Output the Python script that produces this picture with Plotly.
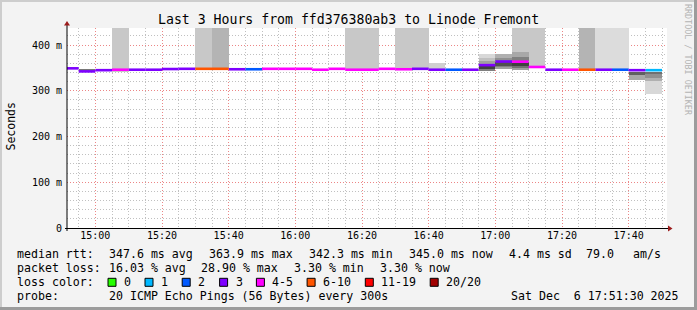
import pandas as pd
import plotly.graph_objects as go

# ---------------- data ----------------
title_text = "Last 3 Hours from ffd376380ab3 to Linode Fremont"
t_start = "2025-12-06 14:51:30"
t_end = "2025-12-06 17:51:30"
slot_start = list(pd.date_range("2025-12-06 14:50", periods=36, freq="5min"))
median_ms = [349, 342.3, 345, 346, 346, 346, 347.5, 348, 348, 348, 347, 347,
             348, 348, 348, 346, 348, 346, 346, 348, 347, 348, 346, 346,
             346, 356, 363.9, 363.5, 352, 346, 346, 346, 346, 346, 345, 345.0]
loss_pings = [3, 3, 3, 4, 3, 3, 3, 3, 6, 6, 3, 2,
              4, 4, 4, 4, 4, 4, 4, 4, 4, 3, 3, 2,
              3, 3, 3, 4, 4, 3, 4, 6, 3, 2, 3, 1]
# smoke bands: slot index, low ms, high ms, grey shade
smoke_slot = [0, 1, 3, 8, 9, 17, 18, 20, 21, 22,
              25, 25, 25, 25, 25,
              26, 26, 26, 26, 26,
              27, 27, 27, 27, 27, 27,
              28, 31, 32, 33,
              34, 34,
              35, 35, 35, 35]
smoke_lo = [349, 343, 341, 348, 348, 344, 344, 346, 347, 346,
            345, 348, 358, 366, 372,
            349, 352, 355, 366, 372,
            345, 345, 350, 355, 366, 374,
            354, 346, 347, 347,
            334, 323,
            336, 329, 322, 293]
smoke_hi = [352, 348, 480, 480, 480, 480, 480, 480, 480, 360,
            348, 354, 366, 372, 380,
            352, 355, 362, 372, 380,
            480, 350, 355, 362, 374, 385,
            480, 480, 480, 480,
            342, 334,
            342, 336, 329, 322]
smoke_shade = [200, 120, 200, 200, 180, 200, 200, 200, 200, 208,
               128, 64, 160, 192, 216,
               160, 128, 80, 144, 176,
               200, 160, 112, 64, 128, 168,
               200, 180, 220, 220,
               96, 168,
               112, 144, 176, 216]

loss_labels = ["0", "1", "2", "3", "4-5", "6-10", "11-19", "20/20"]
loss_upper = [0, 1, 2, 3, 5, 10, 19, 20]
loss_colors = ["#26ff00", "#00b8ff", "#0059ff", "#7e00ff", "#ff00ff", "#ff5500", "#ff0000", "#a10000"]

y_tick_vals = [0, 100, 200, 300, 400]
y_tick_labels = ["0", "100 m", "200 m", "300 m", "400 m"]
x_tick_vals = list(pd.date_range("2025-12-06 15:00", "2025-12-06 17:40", freq="20min"))
x_tick_labels = ["15:00", "15:20", "15:40", "16:00", "16:20", "16:40", "17:00", "17:20", "17:40"]

legend_rtt = ["347.6 ms avg", "363.9 ms max", "342.3 ms min", "345.0 ms now", "4.4 ms sd", "79.0", "am/s"]
legend_loss = ["16.03 % avg", "28.90 % max", "3.30 % min", "3.30 % now"]
probe_text = "20 ICMP Echo Pings (56 Bytes) every 300s"
date_text = "Sat Dec  6 17:51:30 2025"

# ---------------- layout helpers ----------------
W, H = 697, 310
L, R, T, B = 67, 667, 28, 228
MONO = "DejaVu Sans Mono"
LEG = 11.6


def px(x):
    return (x - L) / (R - L)


def py(y):
    return (B - y) / (B - T)


slot = pd.Timedelta("5min")
fig = go.Figure()

# smoke
fig.add_trace(go.Bar(
    x=[slot_start[i] + slot / 2 for i in smoke_slot],
    y=[h - l for l, h in zip(smoke_lo, smoke_hi)],
    base=smoke_lo,
    width=slot.total_seconds() * 1000,
    marker=dict(color=[f"rgb({s},{s},{s})" for s in smoke_shade], line=dict(width=0)),
    hoverinfo="skip",
))


def loss_class(n):
    for k, u in enumerate(loss_upper):
        if n <= u:
            return k
    return len(loss_upper) - 1


for k, col in enumerate(loss_colors):
    xs, ys = [], []
    for t0, v, n in zip(slot_start, median_ms, loss_pings):
        if loss_class(n) == k:
            xs += [t0, t0 + slot, None]
            ys += [v, v, None]
    if xs:
        fig.add_trace(go.Scatter(x=xs, y=ys, mode="lines",
                                 line=dict(color=col, width=2.6), hoverinfo="skip"))

grid_dash = "1px,2px"
fig.update_xaxes(
    type="date", range=[t_start, t_end],
    tickvals=x_tick_vals, ticktext=x_tick_labels,
    tickfont=dict(family=MONO, size=10, color="#000"),
    showgrid=True, gridcolor="rgba(255,110,110,0.7)", griddash=grid_dash, gridwidth=1,
    minor=dict(dtick=300000, tick0="2025-12-06 14:50", showgrid=True,
               gridcolor="rgba(150,150,150,0.6)", griddash=grid_dash, gridwidth=1),
    zeroline=False, showline=False, ticks="", fixedrange=True,
)
fig.update_yaxes(
    range=[0, 437.2], tickvals=y_tick_vals, ticktext=y_tick_labels,
    tickfont=dict(family=MONO, size=10, color="#000"),
    showgrid=True, gridcolor="rgba(255,110,110,0.7)", griddash=grid_dash, gridwidth=1,
    minor=dict(dtick=20, showgrid=True, gridcolor="rgba(150,150,150,0.6)",
               griddash=grid_dash, gridwidth=1),
    zeroline=False, showline=False, ticks="", ticklabelstandoff=4,
)

shapes = []
# frame
frame_light = "#cdcdcd"
frame_dark = "#9c9c9c"
shapes.append(dict(type="rect", xref="paper", yref="paper", x0=px(0), x1=px(W), y0=py(0), y1=py(2),
                   fillcolor=frame_light, line=dict(width=0)))
shapes.append(dict(type="rect", xref="paper", yref="paper", x0=px(0), x1=px(2), y0=py(0), y1=py(H),
                   fillcolor=frame_light, line=dict(width=0)))
shapes.append(dict(type="rect", xref="paper", yref="paper", x0=px(0), x1=px(W), y0=py(H - 3), y1=py(H),
                   fillcolor=frame_dark, line=dict(width=0)))
shapes.append(dict(type="rect", xref="paper", yref="paper", x0=px(W - 3), x1=px(W), y0=py(0), y1=py(H),
                   fillcolor=frame_dark, line=dict(width=0)))
# axes
shapes.append(dict(type="line", xref="paper", yref="paper", x0=px(65), x1=px(670), y0=py(228.5), y1=py(228.5),
                   line=dict(color="#000", width=1)))
shapes.append(dict(type="line", xref="paper", yref="paper", x0=px(67), x1=px(67), y0=py(231), y1=py(24),
                   line=dict(color="#000", width=1)))
arrow_col = "#9c1c1c"
shapes.append(dict(type="path", xref="paper", yref="paper",
                   path=f"M {px(64)} {py(25.5)} L {px(70)} {py(25.5)} L {px(67)} {py(21)} Z",
                   fillcolor=arrow_col, line=dict(width=0)))
shapes.append(dict(type="path", xref="paper", yref="paper",
                   path=f"M {px(668)} {py(225.5)} L {px(668)} {py(231.5)} L {px(672.5)} {py(228.5)} Z",
                   fillcolor=arrow_col, line=dict(width=0)))

ann = []


def text(x, y, s, size=LEG, anchor="left", color="#000", angle=0):
    ann.append(dict(x=px(x), y=py(y), xref="paper", yref="paper", text=s.replace(" ", "\u00a0"),
                    showarrow=False, xanchor=anchor, yanchor="middle", borderpad=0, textangle=angle,
                    font=dict(family=MONO, size=size, color=color)))


text(348, 19.3, title_text, size=13.2, anchor="center")
text(10.5, 127, "Seconds", size=11.5, anchor="center", angle=-90)
text(688, 60, "RRDTOOL / TOBI OETIKER", size=8.4, anchor="center", color="#b4b4b4", angle=90)

row_y = [254.3, 268.3, 282.3, 296.3]
text(16.4, row_y[0], "median rtt:")
for s, x in zip(legend_rtt, [107.6, 207.6, 307.6, 407.6, 507.8, 585, 632]):
    text(x, row_y[0], s)
text(16.4, row_y[1], "packet loss:")
for s, x in zip(legend_loss, [107.6, 200.4, 293.4, 379.4]):
    text(x, row_y[1], s)
text(16.4, row_y[2], "loss color:")
box_x = [108, 145, 182.2, 219.6, 256.4, 307.1, 365.3, 430.2]
for lab, col, x in zip(loss_labels, loss_colors, box_x):
    shapes.append(dict(type="rect", xref="paper", yref="paper", x0=px(x), x1=px(x + 8),
                       y0=py(278.3), y1=py(286.3), fillcolor=col, line=dict(color="#000", width=1)))
    text(x + 15, row_y[2], lab)
text(16.4, row_y[3], "probe:")
text(107.6, row_y[3], probe_text)
text(680, row_y[3], date_text, anchor="right")

fig.update_layout(
    width=W, height=H, margin=dict(l=L, r=W - R, t=T, b=H - B),
    paper_bgcolor="#f3f3f3", plot_bgcolor="#ffffff",
    showlegend=False, barmode="overlay", bargap=0,
    shapes=shapes, annotations=ann,
)

fig.write_html("out.html")
